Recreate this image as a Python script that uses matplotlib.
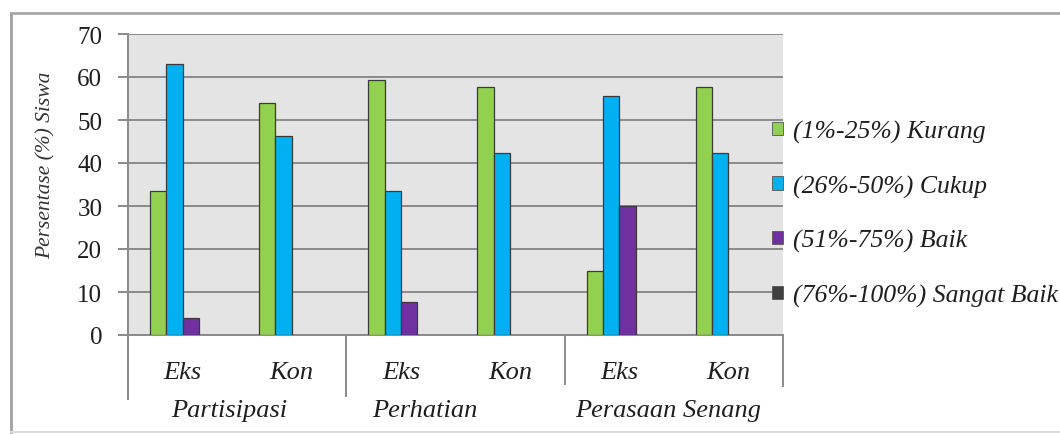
import matplotlib
matplotlib.use("Agg")
import matplotlib.pyplot as plt
from matplotlib.lines import Line2D
from matplotlib.patches import Rectangle
import numpy as np

# Data
subgroups = ["Eks", "Kon", "Eks", "Kon", "Eks", "Kon"]
groups = ["Partisipasi", "Perhatian", "Perasaan Senang"]
series_names = ["(1%-25%) Kurang", "(26%-50%) Cukup", "(51%-75%) Baik", "(76%-100%) Sangat Baik"]
kurang = [33.5, 54.0, 59.3, 57.7, 15.0, 57.7]
cukup = [63.0, 46.2, 33.5, 42.3, 55.6, 42.3]
baik = [4.0, 0.0, 7.6, 0.0, 29.9, 0.0]
sangat_baik = [0.0, 0.0, 0.0, 0.0, 0.0, 0.0]
y_ticks = [0, 10, 20, 30, 40, 50, 60, 70]

colors = ["#92d050", "#00b0f0", "#7030a0", "#404040"]
serif = ["Liberation Serif", "DejaVu Serif"]
text_col = "#1e1e1e"

fig = plt.figure(figsize=(10.6, 4.35), dpi=100)
ax = fig.add_axes([128 / 1060, 1 - 336 / 435, (783 - 128) / 1060, 301 / 435])
ax.set_facecolor("#e4e4e4")

x = np.arange(len(subgroups))
width = 0.15
all_series = [kurang, cukup, baik, sangat_baik]
handles = []
for i, (vals, col, name) in enumerate(zip(all_series, colors, series_names)):
    offs = (i - 1.5) * width
    heights = np.array(vals)
    ax.bar(x + offs, heights, width, color=col,
           edgecolor=["#3a3a3a" if h > 0 else "none" for h in heights],
           linewidth=0.9, label=name, zorder=3)
    handles.append(Rectangle((0, 0), 1, 1, facecolor=col, edgecolor="#555555", linewidth=0.6))

ax.set_xlim(-0.5, 5.5)
ax.set_ylim(0, 70)
ax.set_yticks(y_ticks)
ax.set_yticklabels([str(t) for t in y_ticks], fontfamily=serif, fontsize=18, color=text_col)
ax.yaxis.grid(True, color="#8a8a8a", linewidth=1.4, zorder=0)
ax.set_axisbelow(True)
ax.tick_params(axis="y", length=7.5, width=1.4, color="#8a8a8a", pad=11)
ax.set_xticks([])
for s in ["top", "right"]:
    ax.spines[s].set_visible(False)
for s in ["left", "bottom"]:
    ax.spines[s].set_color("#8a8a8a")
    ax.spines[s].set_linewidth(1.4)

ax.set_ylabel("Persentase (%) Siswa", fontfamily=serif, fontstyle="italic",
              fontsize=15.5, color="#333333")
ax.yaxis.set_label_coords(-0.111, 0.568)

# Multi-level category axis
trans = ax.get_xaxis_transform()
for xi, lab in zip(x, subgroups):
    ax.text(xi, -0.123, lab, transform=trans, ha="center", va="center",
            fontfamily=serif, fontstyle="italic", fontsize=19, color=text_col)
group_pos = [0.43, 2.22, 4.45]
for gx, lab in zip(group_pos, groups):
    ax.text(gx, -0.25, lab, transform=trans, ha="center", va="center",
            fontfamily=serif, fontstyle="italic", fontsize=19, color=text_col)
for sx, depth in [(-0.5, -0.213), (1.5, -0.203), (3.5, -0.163), (5.5, -0.169)]:
    ax.add_line(Line2D([sx, sx], [0, depth], transform=trans, color="#8a8a8a",
                       linewidth=1.4, clip_on=False))

leg = fig.legend(handles, series_names, loc="upper left",
                 bbox_to_anchor=(759 / 1060, 1 - 108 / 435),
                 frameon=False, borderpad=0, handlelength=0.43, handleheight=0.43,
                 handletextpad=0.4, labelspacing=1.23,
                 prop={"family": serif, "style": "italic", "size": 18.5})
for t in leg.get_texts():
    t.set_color(text_col)

# Outer chart frame
fig.add_artist(Line2D([11 / 1060, 11 / 1060], [1 - 433 / 435, 1 - 14 / 435],
                      transform=fig.transFigure, color="#a0a0a0", linewidth=2))
fig.add_artist(Line2D([11 / 1060, 1.0], [1 - 14 / 435, 1 - 14 / 435],
                      transform=fig.transFigure, color="#a8a8a8", linewidth=2))
fig.add_artist(Line2D([11 / 1060, 1.0], [1 - 433 / 435, 1 - 433 / 435],
                      transform=fig.transFigure, color="#dddddd", linewidth=1.5))

fig.savefig("out.png", dpi=100, facecolor="white")
